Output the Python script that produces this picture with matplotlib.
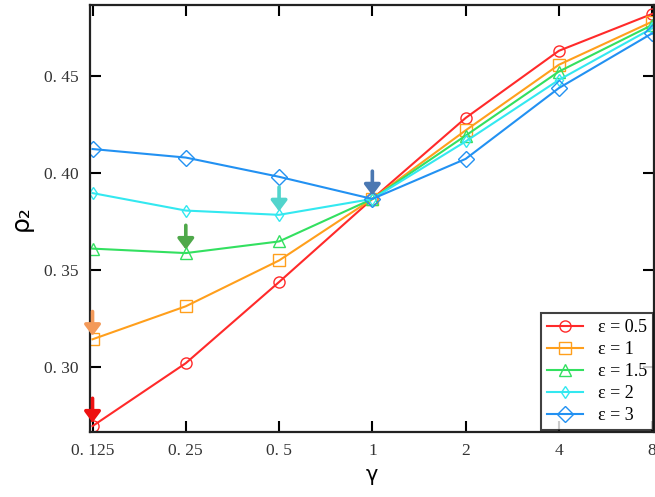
import numpy as np
import matplotlib
matplotlib.use("Agg")
import matplotlib.pyplot as plt

# gamma values (plotted on a log2 axis)
gamma = [0.125, 0.25, 0.5, 1, 2, 4, 8]
gamma_labels = ["0. 125", "0. 25", "0. 5", "1", "2", "4", "8"]

rho_eps_05 = [0.2696, 0.3020, 0.3438, 0.3866, 0.4283, 0.4629, 0.4819]
rho_eps_1 = [0.3143, 0.3313, 0.3549, 0.3866, 0.4219, 0.4557, 0.4779]
rho_eps_15 = [0.3610, 0.3587, 0.3647, 0.3866, 0.4192, 0.4522, 0.4762]
rho_eps_2 = [0.3896, 0.3806, 0.3784, 0.3866, 0.4162, 0.4479, 0.4745]
rho_eps_3 = [0.4123, 0.4079, 0.3980, 0.3866, 0.4072, 0.4437, 0.4719]

series_labels = ["ε = 0.5", "ε = 1", "ε = 1.5", "ε = 2", "ε = 3"]
series_values = [rho_eps_05, rho_eps_1, rho_eps_15, rho_eps_2, rho_eps_3]
colors = ["#ff2a2a", "#ff9f1c", "#33e060", "#33e8f0", "#2291f2"]
markers = ["o", "s", "^", "d", "D"]
msizes = [8, 8, 8, 6, 8]

# highlighted points: (series index, gamma index) and arrow colour
highlight_idx = [(0, 0), (1, 0), (2, 1), (3, 2), (4, 3)]
arrow_colors = ["#ee1111", "#f39a5a", "#4fa84a", "#52d4cc", "#4a78b2"]

y_ticks = [0.30, 0.35, 0.40, 0.45]
y_tick_labels = ["0. 30", "0. 35", "0. 40", "0. 45"]

fig = plt.figure(figsize=(6.55, 4.97), dpi=100)
ax = fig.add_axes([0.137, 0.131, 0.8615, 0.859])

x = np.log2(gamma)
for vals, lab, c, m, ms in zip(series_values, series_labels, colors, markers, msizes):
    ax.plot(x, vals, color=c, marker=m, markersize=ms, markerfacecolor="none",
            markeredgecolor=c, markeredgewidth=1.0, linewidth=1.5, label=lab)

for (si, gi), ac in zip(highlight_idx, arrow_colors):
    px, py = x[gi], series_values[si][gi]
    ax.annotate("", xy=(px, py), xycoords="data",
                xytext=(0, 20), textcoords="offset points",
                arrowprops=dict(arrowstyle="-|>,head_length=0.32,head_width=0.24",
                                mutation_scale=20, color=ac, lw=2.6,
                                shrinkA=0, shrinkB=2.5),
                zorder=5)

ax.set_xlim(-3.03, 3.02)
ax.set_ylim(0.2666, 0.4865)
ax.set_xticks(x)
ax.set_xticklabels(gamma_labels)
ax.set_yticks(y_ticks)
ax.set_yticklabels(y_tick_labels)

for lab in ax.get_xticklabels() + ax.get_yticklabels():
    lab.set_fontfamily("Liberation Serif")
    lab.set_fontsize(12.5)
    lab.set_color("#333333")

ax.tick_params(direction="in", length=8, width=1.5, top=True, right=True,
               labeltop=False, labelright=False, pad=8)
for sp in ax.spines.values():
    sp.set_linewidth(1.6)
    sp.set_color("#222222")

ax.set_xlabel("γ", fontsize=15, family="DejaVu Sans", labelpad=4)
ax.set_ylabel("ρ₂", fontsize=18, family="DejaVu Sans", labelpad=8)

leg = ax.legend(loc="lower right", bbox_to_anchor=(0.999, 0.004), frameon=True,
                fancybox=False, prop={"family": "Liberation Serif", "size": 13},
                handlelength=2.0, borderpad=0.35, labelspacing=0.27,
                handletextpad=0.8, borderaxespad=0.0)
leg.get_frame().set_edgecolor("#111111")
leg.get_frame().set_linewidth(1.5)

fig.savefig("out.png", dpi=100)
